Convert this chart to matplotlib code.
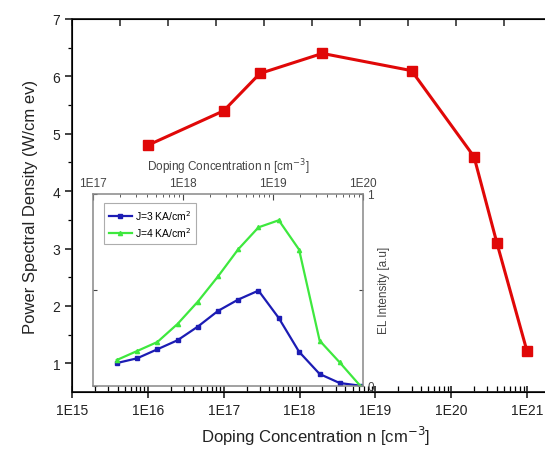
import numpy as np
import matplotlib.pyplot as plt
from matplotlib.ticker import FixedLocator, LogLocator, NullFormatter

plt.rcParams['font.family'] = ['Liberation Sans', 'DejaVu Sans']

# main curve: power spectral density vs doping
n_main = [1e16, 1e17, 3e17, 2e18, 3e19, 2e20, 4e20, 1e21]
psd = [4.80, 5.40, 6.05, 6.40, 6.10, 4.60, 3.10, 1.21]
main_ticks = [1e15, 1e16, 1e17, 1e18, 1e19, 1e20, 1e21]
main_ticklabels = ['1E15', '1E16', '1E17', '1E18', '1E19', '1E20', '1E21']

# inset: EL intensity vs doping
n_inset = [1.84e17, 3.1e17, 5.2e17, 8.7e17, 1.46e18, 2.45e18, 4.1e18,
           6.9e18, 1.16e19, 1.95e19, 3.3e19, 5.5e19, 9.3e19]
el_j3 = [0.118, 0.143, 0.190, 0.237, 0.308, 0.390, 0.449,
         0.496, 0.353, 0.177, 0.061, 0.014, 0.0]
el_j4 = [0.134, 0.181, 0.228, 0.322, 0.438, 0.570, 0.711,
         0.826, 0.863, 0.710, 0.235, 0.122, 0.0]
inset_ticks = [1e17, 1e18, 1e19, 1e20]
inset_ticklabels = ['1E17', '1E18', '1E19', '1E20']

fig = plt.figure(figsize=(5.45, 4.52), dpi=100)
ax = fig.add_axes([0.1321, 0.1305, 0.8954, 0.8253])

ax.plot(n_main, psd, color='#e00808', lw=2.2, marker='s', ms=6.5,
        markeredgecolor='#e00808', zorder=3)
ax.set_xscale('log')
ax.set_xlim(1e15, 2.72e21)
ax.set_ylim(0.5, 7)
ax.xaxis.set_major_locator(FixedLocator(main_ticks))
ax.set_xticklabels(main_ticklabels)
ax.xaxis.set_minor_locator(LogLocator(base=10, subs=np.arange(2, 10)))
ax.xaxis.set_minor_formatter(NullFormatter())
ax.set_yticks([1, 2, 3, 4, 5, 6, 7])
ax.set_yticks(np.arange(1.5, 7, 1), minor=True)
ax.tick_params(axis='x', which='major', direction='inout', length=8, width=1.2,
               labelsize=10, colors='#222222', pad=4)
ax.tick_params(axis='x', which='minor', direction='in', length=4, width=0.9)
ax.tick_params(axis='y', which='major', direction='out', length=5, width=1.2,
               labelsize=10, colors='#222222')
ax.tick_params(axis='y', which='minor', direction='out', length=3, width=0.9)
ax.tick_params(top=False, right=False)
for s in ['left', 'bottom', 'top']:
    ax.spines[s].set_linewidth(1.3)
    ax.spines[s].set_color('#222222')
ax.spines['right'].set_visible(False)
ax.set_xlabel('Doping Concentration n [cm$^{-3}$]', fontsize=12, color='#222222',
              labelpad=5)
ax.set_ylabel('Power Spectral Density (W/cm ev)', fontsize=12, color='#222222',
              labelpad=10)

# inward ticks along the top border
top = ax.twiny()
top.set_xlim(0, 10.17)
top.set_xticks(range(0, 11))
top.tick_params(axis='x', direction='in', length=5, width=1.1, labeltop=False,
                colors='#222222')
top.spines['right'].set_visible(False)

# inset
ins = fig.add_axes([0.1706, 0.1445, 0.4954, 0.4241])
ins.plot(n_inset, el_j3, color='#1c1cb4', lw=1.6, marker='s', ms=2.8,
         label='J=3 KA/cm$^2$')
ins.plot(n_inset, el_j4, color='#3ee83e', lw=1.6, marker='^', ms=3,
         label='J=4 KA/cm$^2$')
ins.set_xscale('log')
ins.set_xlim(1e17, 1e20)
ins.set_ylim(0, 1)
ins.xaxis.set_major_locator(FixedLocator(inset_ticks))
ins.set_xticklabels(inset_ticklabels)
ins.xaxis.set_minor_locator(LogLocator(base=10, subs=np.arange(2, 10)))
ins.xaxis.set_minor_formatter(NullFormatter())
ins.xaxis.set_label_position('top')
ins.tick_params(axis='x', which='both', bottom=False, top=True, labelbottom=False,
                labeltop=True, direction='in', labelsize=8.5, colors='#444444',
                pad=3.5)
ins.tick_params(axis='x', which='major', length=4)
ins.tick_params(axis='x', which='minor', length=2.5)
ins.set_yticks([0, 0.5, 1])
ins.set_yticklabels(['0', '', '1'])
ins.yaxis.set_label_position('right')
ins.tick_params(axis='y', left=True, right=True, labelleft=False, labelright=True,
                direction='in', length=3, labelsize=8.5, colors='#444444', pad=3)
for s in ins.spines.values():
    s.set_color('#888888')
    s.set_linewidth(1.1)
ins.set_xlabel('Doping Concentration n [cm$^{-3}$]', fontsize=8.5,
               color='#444444', labelpad=5)
ins.set_ylabel('EL Intensity [a.u]', fontsize=8.5, color='#444444', labelpad=3)
leg = ins.legend(loc='upper left', fontsize=7.5, frameon=True, fancybox=False,
                 handlelength=2.2, borderpad=0.5, labelspacing=0.3,
                 bbox_to_anchor=(0.02, 0.98), handletextpad=0.3)
leg.get_frame().set_edgecolor('#999999')
leg.get_frame().set_linewidth(0.8)

fig.savefig('out.png', dpi=100)
